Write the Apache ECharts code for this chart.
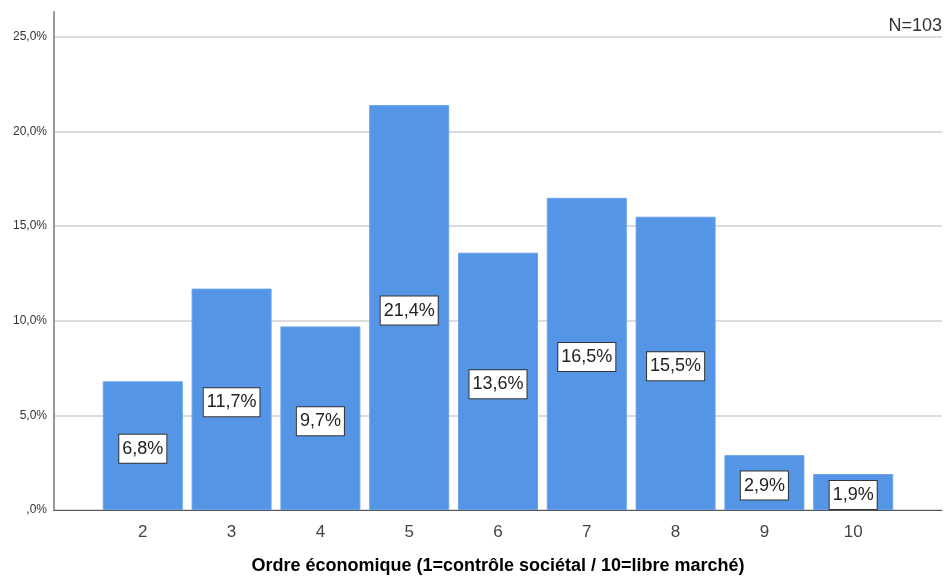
<!DOCTYPE html>
<html>
<head>
<meta charset="utf-8">
<script src="https://cdn.jsdelivr.net/npm/echarts@6/dist/echarts.min.js"></script>
<style>html,body{margin:0;padding:0;background:#fff;}#c{width:947px;height:581px;}</style>
</head>
<body>
<div id="c"></div>
<script>
var categories = [2, 3, 4, 5, 6, 7, 8, 9, 10];
var values = [6.8, 11.7, 9.7, 21.4, 13.6, 16.5, 15.5, 2.9, 1.9];
var xTitle = 'Ordre économique (1=contrôle sociétal / 10=libre marché)';
var nLabel = 'N=103';

function fmtPct(v, dec) {
  var s = v.toFixed(dec).replace('.', ',');
  if (s.indexOf('0,') === 0) s = s.substring(1);
  return s + '%';
}

var data = categories.map(function (c, i) { return [c, values[i]]; });

var chart = echarts.init(document.getElementById('c'), null, {renderer: 'canvas'});
chart.setOption({
  animation: false,
  backgroundColor: '#fff',
  title: {
    text: nLabel, right: 5, top: 17, padding: 0,
    textStyle: {fontFamily: 'Liberation Sans', fontSize: 18, fontWeight: 'normal', color: '#333'}
  },
  grid: {left: 54, right: 5, top: 12, bottom: 71, containLabel: false, outerBoundsMode: 'none'},
  xAxis: {
    type: 'value', min: 1, max: 11, interval: 1,
    name: xTitle, nameLocation: 'middle', nameGap: 47,
    nameTextStyle: {fontFamily: 'Liberation Sans', fontSize: 18, fontWeight: 'bold', color: '#000'},
    axisLine: {show: true, lineStyle: {color: '#555', width: 1}},
    axisTick: {show: false},
    splitLine: {show: false},
    axisLabel: {
      fontFamily: 'Liberation Sans', fontSize: 17, color: '#444', margin: 14,
      showMinLabel: false, showMaxLabel: false,
      formatter: function (v) { return (v >= 2 && v <= 10) ? String(v) : ''; }
    }
  },
  yAxis: {
    type: 'value', min: 0, max: 26.32, interval: 5,
    axisLine: {show: true, lineStyle: {color: '#999', width: 2}},
    axisTick: {show: false},
    splitLine: {show: true, showMaxLine: false, lineStyle: {color: '#d0d0d0', width: 1.5}},
    axisLabel: {
      fontFamily: 'Liberation Sans', fontSize: 12, color: '#333', margin: 7,
      showMaxLabel: false,
      formatter: function (v) { return (v % 5 === 0) ? fmtPct(v, 1) : ''; }
    }
  },
  series: [{
    type: 'bar',
    data: data,
    barWidth: 80,
    itemStyle: {color: '#5595e5', borderColor: '#6aa2ea', borderWidth: 1},
    label: {
      show: true, position: 'inside', offset: [0, 3],
      formatter: function (p) { return fmtPct(p.value[1], 1); },
      fontFamily: 'Liberation Sans', fontSize: 18, color: '#222',
      backgroundColor: '#fff', borderColor: '#333', borderWidth: 1,
      padding: [5, 3, 4, 3], lineHeight: 19
    }
  }]
});
</script>
</body>
</html>
